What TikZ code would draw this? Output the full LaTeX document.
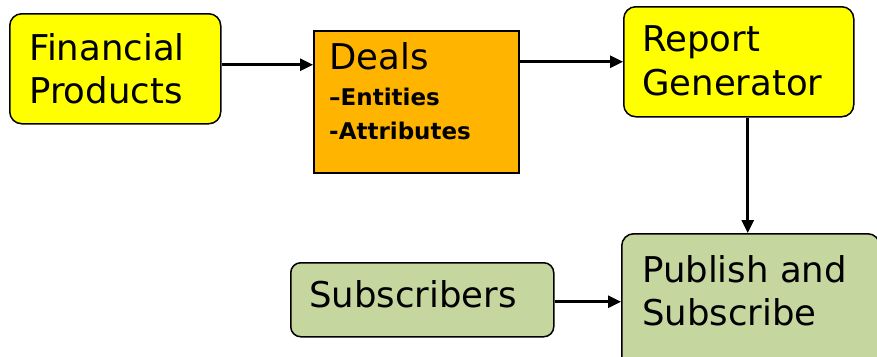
\documentclass[tikz,border=0pt]{standalone}
\usepackage{fontspec}
\setmainfont{DejaVu Sans}
\usetikzlibrary{arrows.meta}
\definecolor{ylw}{RGB}{255,255,0}
\definecolor{org}{RGB}{255,180,0}
\definecolor{grn}{RGB}{197,214,158}
\begin{document}
\begin{tikzpicture}[x=1pt,y=-1pt,
  rbox/.style={draw=black, line width=1.5pt, rounded corners=12pt, inner sep=0pt, anchor=north west},
  sbox/.style={draw=black, line width=1.5pt, inner sep=0pt, anchor=north west},
  big/.style={font=\fontsize{35.5}{43}\selectfont, anchor=base west, inner sep=0pt},
  small/.style={font=\fontsize{23}{30}\selectfont\bfseries, anchor=base west, inner sep=0pt},
  conn/.style={line width=2.6pt, -{Triangle[length=13pt,width=12pt]}}]
\useasboundingbox (0,0) rectangle (877,356);
\clip (0,0) rectangle (877,356);
% boxes
\node[rbox, fill=ylw, minimum width=211pt, minimum height=110pt] (fp) at (9,13) {};
\node[sbox, fill=org, minimum width=205pt, minimum height=142pt] (deals) at (313,30) {};
\node[rbox, fill=ylw, minimum width=230pt, minimum height=110pt] (rg) at (623,6) {};
\node[rbox, fill=grn, minimum width=263pt, minimum height=74pt, rounded corners=10pt] (sub) at (290,262) {};
\node[rbox, fill=grn, minimum width=258pt, minimum height=150pt] (ps) at (621,233) {};
% texts
\node[big] (fp1) at (29,60) {Financial};
\node[big] (fp2) at (29,103) {Products};
\node[big] (d1) at (329,69) {Deals};
\node[small] (d2) at (329,105) {–Entities};
\node[small] (d3) at (329,139) {-Attributes};
\node[big] (rg1) at (642,51) {Report};
\node[big] (rg2) at (642,95) {Generator};
\node[big] (s1) at (309,307) {Subscribers};
\node[big] (ps1) at (642,282) {Publish and};
\node[big] (ps2) at (642,325) {Subscribe};
% connectors
\draw[conn] ([yshift=4pt]fp.east) -- ([yshift=4pt]fp.east -| deals.west);
\draw[conn] (rg.west -| deals.east) -- (rg.west);
\draw[conn] ([xshift=9pt]rg.south) -- ([xshift=9pt]rg.south |- ps.north);
\draw[conn] ([yshift=-2pt]sub.east) -- ([yshift=-2pt]sub.east -| ps.west);
\end{tikzpicture}
\end{document}
